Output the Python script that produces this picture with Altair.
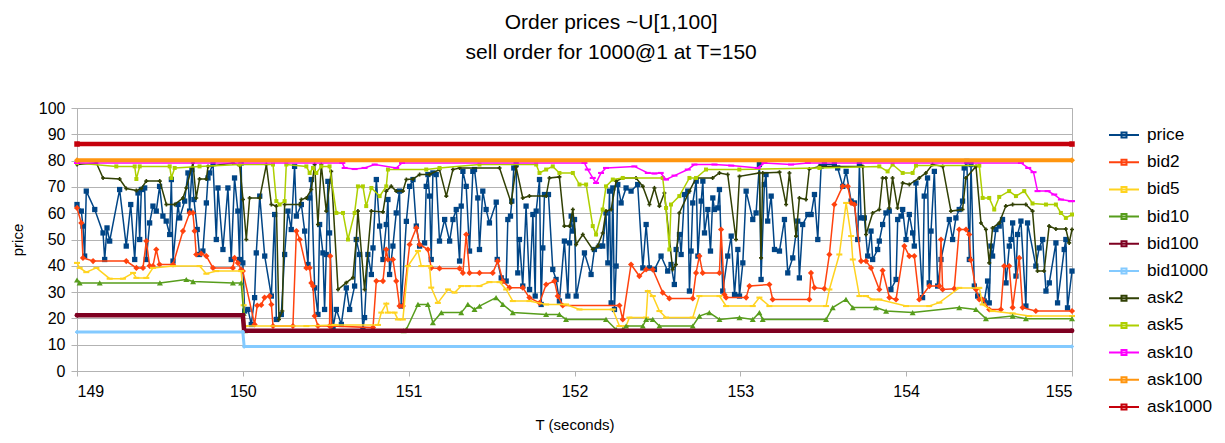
import altair as alt
import pandas as pd

SERIES = ["price", "bid2", "bid5", "bid10", "bid100", "bid1000",
          "ask2", "ask5", "ask10", "ask100", "ask1000"]
COLORS = ["#004586", "#FF420E", "#FFD320", "#579D1C", "#7E0021", "#83CAFF",
          "#314004", "#AECF00", "#FF00FF", "#FF950E", "#C5000B"]

PRICE = [
    (149.000, 63.3), (149.026, 60.8), (149.036, 55.1), (149.046, 43.7), (149.056, 68.4),
    (149.107, 61.4), (149.157, 52.5), (149.167, 42.4), (149.181, 54.4), (149.197, 49.4),
    (149.257, 69.0), (149.297, 47.5), (149.324, 63.3), (149.348, 42.4), (149.368, 67.7),
    (149.378, 50.0), (149.388, 69.0), (149.408, 69.6), (149.418, 42.4), (149.438, 56.3),
    (149.458, 62.7), (149.478, 60.8), (149.498, 70.2), (149.518, 58.9), (149.538, 57.0),
    (149.559, 51.9), (149.569, 72.8), (149.579, 41.8), (149.609, 63.3), (149.619, 58.2),
    (149.649, 64.6), (149.669, 75.3), (149.679, 60.8), (149.693, 76.6), (149.705, 65.2),
    (149.725, 53.8), (149.739, 44.3), (149.759, 45.6), (149.780, 63.9), (149.790, 73.4),
    (149.800, 75.3), (149.820, 79.1), (149.840, 50.0), (149.850, 69.6), (149.880, 46.2),
    (149.910, 69.6), (149.930, 42.4), (149.950, 73.4), (149.970, 60.8), (149.980, 42.4),
    (149.990, 79.1), (150.000, 41.1),
    (150.011, 22.8), (150.031, 23.4), (150.051, 17.7), (150.071, 27.9), (150.081, 44.9),
    (150.102, 66.5), (150.132, 43.7), (150.172, 28.5), (150.192, 59.5), (150.202, 19.6),
    (150.232, 21.5), (150.252, 44.3), (150.272, 60.8), (150.292, 53.8), (150.312, 77.8),
    (150.323, 58.9), (150.353, 63.3), (150.373, 53.2), (150.393, 40.5), (150.403, 65.8),
    (150.413, 72.8), (150.433, 31.6), (150.453, 21.5), (150.463, 55.7), (150.483, 44.9),
    (150.493, 23.4), (150.503, 44.3), (150.513, 72.1), (150.523, 52.5), (150.544, 16.5),
    (150.564, 23.4), (150.594, 17.7), (150.624, 31.6), (150.644, 23.4), (150.674, 32.3),
    (150.684, 50.0), (150.704, 44.3), (150.724, 15.8), (150.734, 20.3), (150.754, 44.3),
    (150.775, 36.7), (150.785, 46.8), (150.805, 72.8), (150.825, 55.1), (150.845, 42.4),
    (150.865, 55.7), (150.875, 65.2), (150.885, 36.7), (150.905, 47.5), (150.925, 60.1),
    (150.945, 68.4), (150.955, 24.7), (150.986, 56.9), (151.006, 70.2), (151.026, 72.8),
    (151.046, 55.1), (151.066, 47.5), (151.096, 48.7), (151.106, 70.2), (151.116, 74.7),
    (151.126, 66.5), (151.136, 42.4), (151.146, 75.3), (151.166, 74.7), (151.186, 49.4),
    (151.217, 57.6), (151.247, 49.4), (151.267, 57.6), (151.287, 61.4), (151.307, 41.8),
    (151.317, 62.7), (151.327, 75.9), (151.347, 70.2), (151.367, 45.6), (151.387, 75.9),
    (151.397, 76.6), (151.417, 65.8), (151.427, 46.2), (151.447, 68.4), (151.467, 61.4),
    (151.487, 56.3), (151.528, 64.2), (151.534, 42.4), (151.558, 35.4), (151.588, 34.2),
    (151.598, 57.6), (151.614, 58.9), (151.622, 64.6), (151.634, 77.2), (151.648, 78.5),
    (151.658, 37.3), (151.668, 50.0), (151.688, 32.3), (151.708, 62.7), (151.729, 31.0),
    (151.749, 59.5), (151.763, 28.5), (151.769, 60.8), (151.789, 72.8), (151.799, 25.3),
    (151.809, 46.8), (151.819, 67.1), (151.843, 67.1), (151.869, 38.6), (151.889, 34.8),
    (151.909, 26.6), (151.939, 49.4), (151.960, 28.5), (151.970, 48.7), (151.980, 58.9),
    (151.990, 53.2), (152.000, 57.6), (152.010, 28.5), (152.060, 44.9), (152.100, 36.7),
    (152.120, 46.2), (152.150, 47.5), (152.170, 47.5), (152.190, 60.1), (152.201, 41.1),
    (152.211, 68.4), (152.221, 25.9), (152.231, 69.6), (152.241, 23.4), (152.251, 39.9),
    (152.261, 70.9), (152.281, 63.9), (152.311, 69.6), (152.341, 68.4), (152.381, 70.9),
    (152.412, 39.2), (152.432, 55.7), (152.452, 39.2), (152.482, 38.6), (152.522, 43.7),
    (152.562, 38.0), (152.582, 40.5), (152.602, 32.9),
    (152.613, 46.2), (152.633, 51.9), (152.643, 44.3), (152.663, 67.1), (152.683, 68.4),
    (152.693, 30.4), (152.703, 45.6), (152.713, 63.9), (152.734, 72.2), (152.744, 43.7),
    (152.764, 64.6), (152.774, 72.2), (152.784, 52.5), (152.804, 61.4), (152.820, 45.6),
    (152.834, 65.8), (152.844, 61.4), (152.864, 62.0), (152.874, 69.0), (152.894, 30.4),
    (152.924, 43.7), (152.945, 51.3), (152.965, 29.1), (152.985, 46.2), (152.995, 28.5),
    (153.015, 41.1), (153.035, 68.4), (153.075, 57.6), (153.095, 60.1), (153.115, 78.5),
    (153.125, 34.8), (153.145, 70.9), (153.155, 74.7), (153.165, 57.0), (153.186, 66.5),
    (153.206, 46.2), (153.236, 45.6), (153.266, 57.6), (153.286, 37.3), (153.316, 43.0),
    (153.346, 57.0), (153.356, 35.4), (153.376, 55.7), (153.407, 59.5), (153.427, 59.5),
    (153.447, 67.1), (153.467, 50.0), (153.487, 77.8), (153.507, 78.5), (153.567, 78.5),
    (153.587, 77.2), (153.618, 70.2), (153.638, 75.9), (153.668, 64.6), (153.688, 63.9),
    (153.708, 50.0), (153.718, 78.5), (153.728, 58.2), (153.748, 58.2), (153.768, 43.7),
    (153.788, 53.2), (153.798, 42.4),
    (153.828, 46.2), (153.838, 49.4), (153.858, 55.7), (153.878, 60.1), (153.898, 60.8),
    (153.908, 31.0), (153.939, 34.8), (153.949, 57.6), (153.969, 58.9), (153.979, 61.4),
    (153.999, 50.0), (154.019, 59.5), (154.039, 52.5), (154.049, 47.5), (154.059, 71.5),
    (154.099, 27.9), (154.109, 66.5), (154.129, 73.4), (154.139, 33.5), (154.150, 53.2),
    (154.170, 75.9), (154.190, 32.3), (154.210, 42.4), (154.260, 57.6), (154.280, 50.0),
    (154.300, 58.2), (154.320, 61.4), (154.340, 64.6), (154.350, 77.2), (154.366, 79.7),
    (154.381, 42.4), (154.391, 78.5), (154.411, 32.3), (154.431, 28.5), (154.471, 26.6),
    (154.491, 34.2), (154.501, 25.9), (154.511, 47.5), (154.521, 43.7), (154.541, 53.8),
    (154.561, 55.1), (154.581, 57.6), (154.602, 33.5), (154.622, 47.5), (154.632, 50.0),
    (154.642, 56.3), (154.662, 36.1), (154.672, 51.9), (154.692, 57.0), (154.722, 24.7),
    (154.732, 56.3), (154.782, 39.9), (154.802, 46.8), (154.823, 50.0), (154.843, 30.4),
    (154.863, 33.5), (154.903, 48.7), (154.913, 25.9), (154.953, 46.2), (154.963, 50.0),
    (154.973, 24.0), (155.000, 38.0),
]

BID2 = [
    (149.000, 62.0), (149.026, 56.3), (149.036, 43.0), (149.097, 41.8), (149.297, 41.8),
    (149.358, 39.2), (149.398, 39.2), (149.418, 49.4), (149.438, 40.0), (149.458, 39.9),
    (149.478, 46.2), (149.498, 40.5), (149.579, 40.5), (149.639, 53.2), (149.679, 60.1),
    (149.699, 60.1), (149.709, 53.2), (149.719, 44.3), (149.749, 44.6), (149.780, 43.7),
    (149.820, 39.2), (149.940, 39.2), (149.950, 43.0), (149.970, 41.1), (149.990, 38.6),
    (150.000, 38.0), (150.071, 17.7), (150.087, 24.9), (150.111, 25.1), (150.131, 27.9),
    (150.161, 28.5), (150.172, 25.3), (150.182, 17.1), (150.302, 17.1), (150.323, 53.2),
    (150.343, 50.0), (150.383, 39.2), (150.403, 39.2), (150.413, 33.5), (150.423, 32.3),
    (150.433, 20.9), (150.453, 17.1), (150.523, 17.1), (150.527, 43.7), (150.535, 17.1),
    (150.785, 16.5), (150.805, 34.2), (150.845, 34.2), (150.865, 46.2), (150.875, 42.4),
    (150.905, 42.4), (150.925, 34.2), (150.945, 24.7), (150.965, 24.7), (151.006, 48.1),
    (151.046, 54.4), (151.066, 48.1), (151.116, 46.2), (151.136, 39.2), (151.186, 39.0),
    (151.307, 39.0), (151.327, 37.3), (151.347, 51.9), (151.367, 37.3), (151.427, 37.3),
    (151.507, 37.3), (151.537, 41.8), (151.568, 34.2), (151.608, 31.7), (151.688, 31.7),
    (151.728, 27.9), (151.789, 25.9), (151.829, 32.9), (151.879, 34.2), (151.899, 28.5),
    (151.929, 24.9), (152.271, 24.9), (152.291, 19.6), (152.341, 40.5), (152.391, 36.1),
    (152.432, 38.6), (152.472, 38.6), (152.532, 29.8), (152.572, 27.6), (152.713, 27.6),
    (152.733, 37.3), (152.753, 43.7), (152.773, 37.3), (152.874, 37.3), (152.884, 53.8),
    (152.904, 29.1), (152.914, 27.9), (153.035, 27.9), (153.055, 32.3), (153.175, 32.9),
    (153.195, 27.2), (153.416, 27.2), (153.426, 37.3), (153.447, 31.7), (153.507, 31.3),
    (153.537, 44.3), (153.567, 63.3), (153.617, 70.2), (153.648, 70.2), (153.668, 63.9),
    (153.688, 63.3), (153.728, 41.8), (153.758, 41.8), (153.788, 39.2), (153.838, 31.0),
    (153.858, 38.2), (153.899, 27.9), (153.939, 27.2), (153.989, 47.5), (154.019, 43.7),
    (154.049, 43.7), (154.079, 27.2), (154.140, 32.3), (154.200, 32.3), (154.210, 50.0),
    (154.220, 31.0), (154.290, 31.3), (154.320, 53.8), (154.361, 53.8), (154.380, 51.9),
    (154.390, 42.2), (154.421, 31.0), (154.441, 27.2), (154.461, 27.2), (154.501, 23.4),
    (154.571, 23.4), (154.591, 39.9), (154.621, 39.9), (154.642, 24.1), (154.682, 43.0),
    (154.702, 24.1), (154.782, 22.8), (155.000, 22.8),
]

BID5 = [
    (149.000, 41.1), (149.016, 39.2), (149.056, 37.6), (149.117, 39.2), (149.197, 35.1),
    (149.277, 35.1), (149.338, 37.3), (149.358, 35.4), (149.418, 35.4), (149.458, 39.2),
    (149.579, 39.9), (149.739, 39.9), (149.780, 37.0), (149.840, 38.0), (149.990, 38.0),
    (150.005, 25.0), (150.012, 17.1), (150.383, 17.1), (150.554, 17.5), (150.815, 17.5),
    (150.835, 22.2), (150.865, 25.6), (150.875, 22.2), (150.915, 22.2), (150.935, 19.6),
    (150.965, 19.6), (150.996, 39.9), (151.056, 45.6), (151.076, 39.9), (151.126, 39.9),
    (151.136, 31.7), (151.176, 25.9), (151.237, 31.0), (151.277, 29.8), (151.317, 32.3),
    (151.357, 32.3), (151.427, 32.3), (151.487, 33.8), (151.548, 33.8), (151.588, 31.0),
    (151.628, 26.6), (151.728, 26.6), (151.829, 25.3), (151.949, 25.3), (152.030, 23.4),
    (152.231, 23.4), (152.271, 17.1), (152.311, 17.1), (152.331, 20.3), (152.432, 20.3),
    (152.442, 30.4), (152.472, 28.5), (152.512, 22.8), (152.552, 20.3), (152.713, 20.3),
    (152.753, 28.5), (152.874, 28.5), (152.914, 24.7), (153.075, 24.7), (153.115, 27.9),
    (153.175, 24.7), (153.517, 24.7), (153.537, 31.0), (153.597, 44.3), (153.638, 63.9),
    (153.668, 51.3), (153.678, 42.4), (153.718, 28.5), (153.758, 28.5), (153.798, 27.2),
    (153.838, 27.2), (153.999, 24.7), (154.139, 24.7), (154.200, 26.0), (154.320, 31.6),
    (154.441, 31.6), (154.461, 25.3), (154.521, 22.8), (154.642, 21.9), (154.742, 20.9),
    (155.000, 20.9),
]

BID10 = [
    (149.000, 34.6), (149.016, 33.5), (149.137, 33.5), (149.500, 33.5), (149.659, 34.8),
    (149.700, 34.0), (149.940, 33.5), (149.990, 33.5), (150.005, 22.0), (150.012, 15.3),
    (150.970, 15.3), (150.986, 15.8), (151.056, 25.3), (151.116, 25.3), (151.146, 18.4),
    (151.197, 22.2), (151.317, 22.2), (151.357, 25.3), (151.397, 23.4), (151.427, 24.7),
    (151.527, 27.9), (151.568, 25.3), (151.628, 22.2), (151.829, 21.5), (151.909, 21.5),
    (151.949, 19.6), (152.190, 19.6), (152.251, 15.8), (152.291, 15.8), (152.311, 17.1),
    (152.412, 17.1), (152.432, 19.6), (152.472, 19.6), (152.512, 17.1), (152.713, 17.1),
    (152.753, 20.9), (152.813, 22.2), (152.874, 19.6), (152.995, 20.3), (153.075, 19.6),
    (153.115, 22.2), (153.135, 19.6), (153.517, 19.6), (153.557, 24.1), (153.637, 27.2),
    (153.678, 24.1), (153.818, 24.1), (153.879, 22.8), (154.039, 22.2), (154.320, 24.1),
    (154.421, 23.4), (154.481, 19.9), (154.642, 20.9), (154.722, 19.9), (155.000, 19.9),
]

BID100 = [(149.000, 21.2), (150.000, 21.2), (150.008, 15.3), (155.000, 15.3)]
BID1000 = [(149.000, 14.8), (150.000, 14.8), (150.008, 9.3), (155.000, 9.3)]

ASK2 = [
    (149.000, 78.5), (149.117, 79.1), (149.157, 73.4), (149.257, 73.0), (149.297, 69.4),
    (149.358, 68.6), (149.388, 69.4), (149.418, 72.2), (149.499, 72.2), (149.539, 63.3),
    (149.589, 63.3), (149.639, 65.8), (149.659, 69.6), (149.699, 79.1), (149.719, 65.8),
    (149.739, 73.0), (149.780, 73.0), (149.790, 77.8), (149.940, 79.1), (149.981, 78.1),
    (150.001, 65.2), (150.021, 50.0), (150.041, 65.8), (150.102, 65.8), (150.142, 78.5),
    (150.172, 63.3), (150.202, 62.7), (150.218, 19.6), (150.238, 22.8), (150.252, 63.3),
    (150.343, 63.3), (150.353, 65.2), (150.383, 65.8), (150.413, 69.0), (150.433, 78.5),
    (150.453, 55.7), (150.473, 78.5), (150.503, 60.8), (150.533, 75.9), (150.574, 31.0),
    (150.624, 33.6), (150.664, 35.5), (150.684, 50.0), (150.694, 60.8), (150.734, 31.0),
    (150.775, 60.8), (150.845, 60.5), (150.865, 68.4), (150.895, 70.2), (150.925, 68.4),
    (150.965, 68.4), (150.986, 72.8), (151.026, 73.0), (151.066, 74.7), (151.126, 74.7),
    (151.186, 76.6), (151.227, 66.5), (151.267, 76.6), (151.307, 77.2), (151.548, 77.2),
    (151.618, 63.9), (151.648, 77.6), (151.688, 65.8), (151.728, 66.5), (151.829, 66.5),
    (151.849, 73.4), (151.909, 73.8), (151.939, 55.1), (151.970, 55.1), (151.990, 61.4),
    (152.010, 48.1), (152.050, 51.9), (152.110, 46.2), (152.140, 47.5), (152.170, 52.5),
    (152.190, 60.8), (152.221, 61.4), (152.251, 72.2), (152.291, 73.4), (152.371, 73.4),
    (152.412, 70.2), (152.452, 63.3), (152.482, 69.6), (152.512, 62.7), (152.542, 67.7),
    (152.592, 38.6), (152.612, 40.5), (152.632, 60.1), (152.693, 68.4), (152.733, 73.4),
    (152.833, 73.4), (152.874, 75.3), (152.924, 74.7), (152.974, 50.0), (152.995, 74.0),
    (153.115, 75.3), (153.125, 43.0), (153.135, 75.3), (153.236, 75.6), (153.276, 63.3),
    (153.296, 75.3), (153.336, 51.3), (153.356, 65.8), (153.396, 65.2), (153.416, 76.8),
    (153.477, 77.8), (153.738, 77.8), (153.758, 51.9), (153.798, 60.1), (153.838, 61.4),
    (153.858, 73.4), (153.878, 73.4), (153.898, 62.0), (153.918, 73.4), (153.948, 62.0),
    (153.979, 71.5), (154.019, 70.9), (154.079, 73.4), (154.119, 75.3), (154.159, 78.5),
    (154.220, 77.8), (154.270, 60.8), (154.340, 61.4), (154.360, 73.4), (154.421, 77.8),
    (154.451, 56.3), (154.481, 53.8), (154.501, 41.1), (154.521, 54.4), (154.561, 56.3),
    (154.601, 62.7), (154.642, 63.3), (154.722, 63.3), (154.762, 60.8), (154.792, 38.0),
    (154.832, 38.0), (154.862, 55.1), (154.903, 54.0), (154.963, 54.0), (154.983, 48.7),
    (155.000, 53.8),
]

ASK5 = [
    (149.000, 79.1), (149.237, 77.8), (149.348, 77.8), (149.358, 73.0), (149.378, 77.8),
    (149.559, 77.8), (149.569, 73.4), (149.589, 77.2), (149.739, 77.8), (149.981, 78.5),
    (150.182, 78.5), (150.202, 64.6), (150.222, 63.3), (150.252, 64.6), (150.262, 78.5),
    (150.383, 77.8), (150.403, 75.3), (150.423, 77.2), (150.443, 75.3), (150.473, 77.8),
    (150.523, 77.8), (150.564, 60.1), (150.604, 60.1), (150.634, 50.0), (150.674, 60.1),
    (150.694, 70.2), (150.724, 70.2), (150.744, 62.7), (150.775, 69.6), (150.825, 66.5),
    (150.865, 70.2), (150.875, 76.6), (151.106, 76.6), (151.186, 77.2), (151.427, 78.5),
    (151.769, 78.5), (151.789, 75.3), (151.829, 76.6), (151.869, 77.8), (151.909, 75.3),
    (151.990, 75.3), (152.030, 70.9), (152.070, 70.9), (152.110, 55.1), (152.130, 51.9),
    (152.170, 61.4), (152.190, 70.2), (152.231, 72.8), (152.291, 73.4), (152.532, 73.4),
    (152.552, 62.0), (152.572, 46.2), (152.582, 63.3), (152.632, 66.5), (152.693, 73.4),
    (152.733, 73.4), (152.793, 76.6), (152.994, 76.6), (153.477, 77.2), (153.838, 77.8),
    (153.888, 75.9), (153.918, 78.5), (153.979, 75.3), (154.039, 75.3), (154.059, 78.1),
    (154.441, 78.1), (154.461, 65.8), (154.501, 65.8), (154.531, 61.4), (154.561, 66.2),
    (154.621, 68.4), (154.662, 66.5), (154.712, 68.4), (154.762, 63.7), (154.843, 63.3),
    (154.903, 63.3), (154.933, 60.1), (154.963, 58.2), (155.000, 59.5),
]

ASK10 = [
    (149.000, 79.1), (150.600, 79.1), (150.614, 77.2), (150.674, 76.8), (150.734, 77.2),
    (150.795, 78.5), (150.925, 77.2), (150.960, 79.1), (152.060, 79.1), (152.080, 76.6),
    (152.110, 73.4), (152.130, 71.5), (152.160, 75.3), (152.190, 77.2), (152.361, 77.8),
    (152.442, 75.3), (152.482, 75.1), (152.520, 75.3), (152.552, 72.8), (152.603, 74.3),
    (152.683, 76.6), (152.723, 78.5), (152.844, 78.5), (152.945, 78.1), (153.105, 77.2),
    (153.145, 79.1), (153.306, 78.5), (153.407, 79.1), (154.692, 79.1), (154.736, 77.2),
    (154.768, 75.6), (154.792, 68.4), (154.853, 68.4), (154.893, 67.1), (154.933, 65.2),
    (154.993, 64.6), (155.000, 64.6),
]

ASK100 = [(149.000, 80.1), (155.000, 80.1)]
ASK1000 = [(149.000, 86.3), (155.000, 86.3)]

DATA = {"price": PRICE, "bid2": BID2, "bid5": BID5, "bid10": BID10,
        "bid100": BID100, "bid1000": BID1000, "ask2": ASK2, "ask5": ASK5,
        "ask10": ASK10, "ask100": ASK100, "ask1000": ASK1000}

X_TICKS = [149, 150, 151, 152, 153, 154, 155]
Y_TICKS = [0, 10, 20, 30, 40, 50, 60, 70, 80, 90, 100]

FONT = "Liberation Sans"
GRID = "#B3B3B3"
DASH = "M-1,-0.35H1V0.35H-1Z"
LEGEND_SYMBOL = "M-1.5,0H1.5M-0.25,-0.25H0.25V0.25H-0.25Z"

# (line width, marker shape, marker size)
STYLE = {
    "price": (1.5, "square", 28),
    "bid2": (1.5, "diamond", 38),
    "bid5": (1.5, DASH, 36),
    "bid10": (1.5, "triangle-up", 36),
    "bid100": (4.5, "circle", 24),
    "bid1000": (3.0, "cross", 16),
    "ask2": (1.5, "cross", 16),
    "ask5": (1.5, "square", 16),
    "ask10": (1.5, DASH, 36),
    "ask100": (4.0, "diamond", 36),
    "ask1000": (4.5, "square", 30),
}

x_enc = alt.X("T:Q", scale=alt.Scale(domain=[149, 155], nice=False, zero=False),
              axis=alt.Axis(values=X_TICKS, format="d", grid=False, title="T (seconds)",
                            tickSize=5, labelPadding=7, titlePadding=18,
                            labelFontSize=16, titleFontSize=15))
y_enc = alt.Y("value:Q", scale=alt.Scale(domain=[0, 100], nice=False),
              axis=alt.Axis(values=Y_TICKS, grid=True, title="price",
                            tickSize=6, labelPadding=6, titlePadding=13,
                            labelFontSize=16, titleFontSize=15))
color_enc = alt.Color("series:N", scale=alt.Scale(domain=SERIES, range=COLORS),
                      legend=alt.Legend(title=None, orient="none", legendX=1036, legendY=16,
                                        symbolType=LEGEND_SYMBOL, symbolSize=400,
                                        symbolStrokeWidth=2, labelFontSize=17.2,
                                        labelOffset=12, rowPadding=7.2))

layers = []
for name, color in zip(SERIES, COLORS):
    df = pd.DataFrame(DATA[name], columns=["T", "value"])
    df["series"] = name
    width, shape, size = STYLE[name]
    base = alt.Chart(df)
    layers.append(base.mark_line(strokeWidth=width).encode(x=x_enc, y=y_enc, color=color_enc))
    layers.append(base.mark_point(filled=True, shape=shape, size=size, color=color,
                                  opacity=1, strokeWidth=1.2)
                  .encode(x=x_enc, y=y_enc))

chart = alt.layer(*layers).properties(
    width=995, height=263,
    title=alt.Title(["Order prices ~U[1,100]", "sell order for 1000@1 at T=150"],
                    fontSize=21, font=FONT, fontWeight="normal", lineHeight=30,
                    anchor="middle", frame="bounds", offset=37, color="black"),
    padding={"left": 69, "top": 100, "right": 141, "bottom": 63},
    autosize=alt.AutoSizeParams(type="none"),
).configure_view(stroke=GRID, strokeWidth=1).configure_axis(
    labelFont=FONT, titleFont=FONT, labelColor="black", titleColor="black",
    titleFontWeight="normal", domainColor=GRID, tickColor=GRID, gridColor=GRID,
).configure_legend(labelFont=FONT, labelColor="black")

chart.save("out.html", embed_options={"renderer": "svg", "actions": False})
